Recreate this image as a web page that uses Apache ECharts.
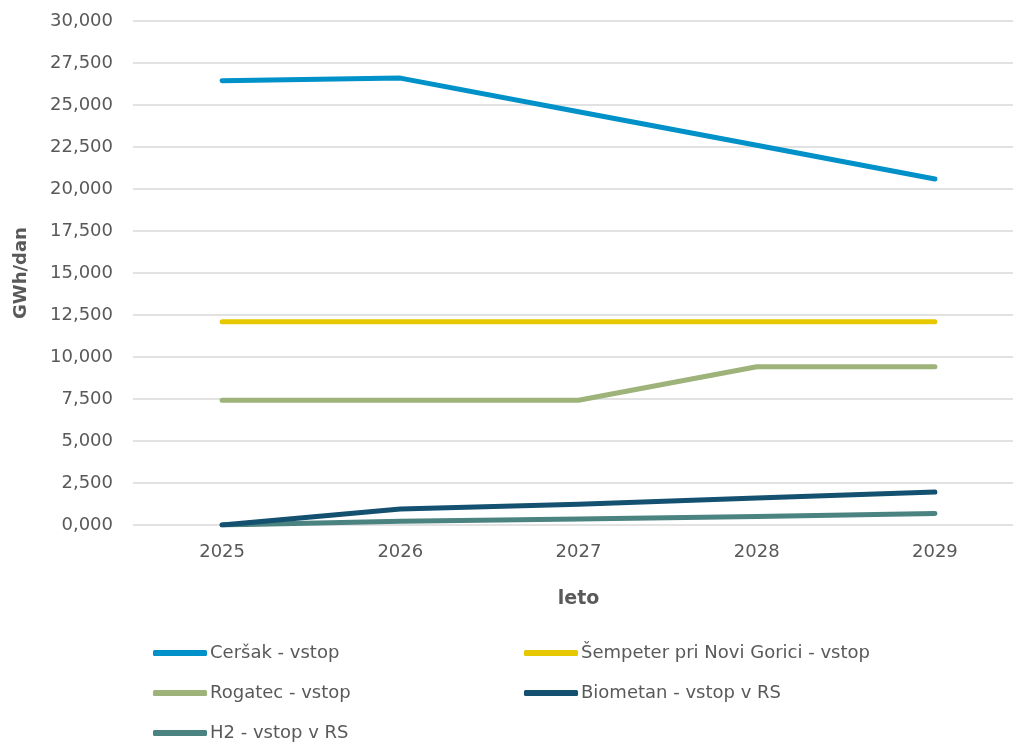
<!DOCTYPE html>
<html>
<head>
<meta charset="utf-8">
<script src="https://cdn.jsdelivr.net/npm/echarts@6/dist/echarts.min.js"></script>
<style>
  html, body { margin: 0; padding: 0; background: #fff; }
  #container { width: 1013px; height: 743px; }
</style>
</head>
<body>
<div id="container"></div>
<script>
// data (GWh/dan)
var years = ['2025', '2026', '2027', '2028', '2029'];
var cersak = [26.45, 26.6, 24.6, 22.6, 20.6];
var sempeter = [12.1, 12.1, 12.1, 12.1, 12.1];
var rogatec = [7.43, 7.43, 7.43, 9.42, 9.42];
var biometan = [0, 0.95, 1.24, 1.6, 1.96];
var h2 = [0, 0.22, 0.36, 0.51, 0.69];

var names = ['Ceršak - vstop', 'Šempeter pri Novi Gorici - vstop', 'Rogatec - vstop', 'Biometan - vstop v RS', 'H2 - vstop v RS'];
var colors = ['#0091C9', '#E6C800', '#9DB37A', '#14506F', '#4A8380'];
var values = [cersak, sempeter, rogatec, biometan, h2];

// legend slots: [left, top] for each name
var legendSlots = [[148, 639], [519, 639], [148, 679], [519, 679], [148, 719]];

var fontName = 'DejaVu Sans';
var textColor = '#595959';

function makeSeries(i) {
    return {
        name: names[i],
        type: 'line',
        data: values[i],
        symbol: 'none',
        lineStyle: { color: colors[i], width: 5, cap: 'round', join: 'round' },
        itemStyle: { color: colors[i] },
        z: 10 - i
    };
}

function makeLegend(i) {
    return {
        left: legendSlots[i][0],
        top: legendSlots[i][1],
        data: [names[i]],
        itemWidth: 54,
        itemHeight: 6,
        icon: 'roundRect',
        textStyle: { fontFamily: fontName, fontSize: 18, color: textColor, padding: [0, 0, 0, -2] }
    };
}

var myChart = echarts.init(document.getElementById('container'), null, { renderer: 'canvas' });

var option = {
    animation: false,
    color: colors,
    grid: { left: 133, top: 21, height: 504, width: 891, containLabel: false, outerBoundsMode: 'none' },
    legend: [0, 1, 2, 3, 4].map(makeLegend),
    xAxis: {
        type: 'category',
        data: years,
        boundaryGap: true,
        name: 'leto',
        nameLocation: 'middle',
        nameGap: 65,
        nameTextStyle: { fontFamily: fontName, fontSize: 19, fontWeight: 'bold', color: textColor },
        axisLine: { show: false },
        axisTick: { show: false },
        axisLabel: { fontFamily: fontName, fontSize: 18, color: textColor, margin: 18 }
    },
    yAxis: {
        type: 'value',
        min: 0,
        max: 30,
        interval: 2.5,
        name: 'GWh/dan',
        nameLocation: 'middle',
        nameGap: 103,
        nameTextStyle: { fontFamily: fontName, fontSize: 18, fontWeight: 'bold', color: textColor },
        axisLine: { show: false },
        axisTick: { show: false },
        splitLine: { lineStyle: { color: '#d9d9d9', width: 1.5 } },
        axisLabel: {
            fontFamily: fontName, fontSize: 18, color: textColor, margin: 20,
            formatter: function (v) { return v.toFixed(3).replace('.', ','); }
        }
    },
    series: [0, 1, 2, 3, 4].map(makeSeries)
};

myChart.setOption(option);
window.addEventListener('resize', myChart.resize);
</script>
</body>
</html>
